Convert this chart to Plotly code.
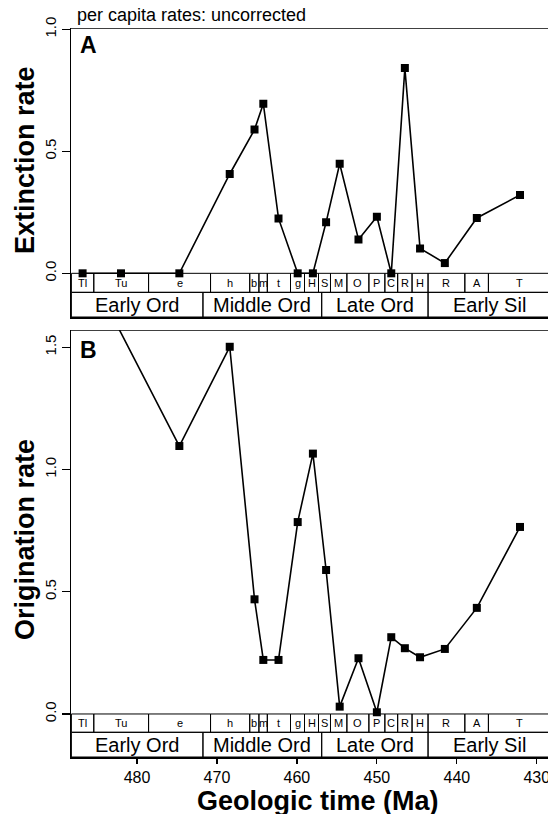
import plotly.graph_objects as go

# ---------------- data ----------------
ages = [486.8, 482.0, 474.7, 468.4, 465.3, 464.2, 462.3, 459.9, 458.0, 456.35,
        454.65, 452.3, 450.0, 448.2, 446.5, 444.6, 441.5, 437.5, 432.1]
extinction = [0, 0, 0, 0.407, 0.589, 0.695, 0.225, 0, 0, 0.209,
              0.449, 0.139, 0.232, 0, 0.841, 0.102, 0.042, 0.227, 0.321]
origination = [1.863, None, 1.096, 1.502, 0.469, 0.221, 0.221, 0.785, 1.065, 0.589,
               0.030, 0.228, 0.007, 0.314, 0.269, 0.232, 0.266, 0.434, 0.765]

stage_labels = ["Tl", "Tu", "e", "h", "b", "m", "t", "g", "H", "S", "M", "O", "P",
                "C", "R", "H", "R", "A", "T"]
stage_bounds = [488.2, 485.4, 478.55, 470.8, 465.9, 464.75, 463.7, 460.8, 459.05,
                457.3, 455.8, 453.75, 451.0, 449.0, 447.4, 445.6, 443.6, 439.0,
                436.05, 428.2]
series_labels = ["Early Ord", "Middle Ord", "Late Ord", "Early Sil"]
series_bounds = [488.2, 471.75, 456.9, 443.6, 428.2]

x_ticks = [480, 470, 460, 450, 440, 430]
y_ticks_a = [0, 0.5, 1.0]
y_ticks_b = [0, 0.5, 1.0, 1.5]

# ---------------- layout constants ----------------
W, H = 548, 814
FONT = "Liberation Sans"
XRANGE = [488.25, 428.6]
A_RANGE = [-0.179, 1.004]
B_RANGE = [-0.176, 1.5706]
A_STAGE_BOTTOM = -0.078
B_STAGE_BOTTOM = -0.075


def py(p):
    return 1 - p / H


fig = go.Figure()

fig.add_trace(go.Scatter(
    x=ages, y=extinction, mode="lines+markers", xaxis="x", yaxis="y",
    line=dict(color="black", width=1.6),
    marker=dict(symbol="square", size=8, color="black"),
    showlegend=False, hoverinfo="skip"))
fig.add_trace(go.Scatter(
    x=ages, y=origination, mode="lines+markers", xaxis="x2", yaxis="y2",
    connectgaps=True,
    line=dict(color="black", width=1.6),
    marker=dict(symbol="square", size=8, color="black"),
    showlegend=False, hoverinfo="skip"))

shapes = []
annotations = []

for xr, yr, bottom, rng in [("x", "y", A_STAGE_BOTTOM, A_RANGE),
                            ("x2", "y2", B_STAGE_BOTTOM, B_RANGE)]:
    # top frame line of the panel
    shapes.append(dict(type="line", xref="paper", yref=yr, x0=0, x1=1, y0=rng[1], y1=rng[1],
                       line=dict(color="black", width=1.5), layer="above"))
    for i, lab in enumerate(stage_labels):
        x0, x1 = stage_bounds[i], stage_bounds[i + 1]
        shapes.append(dict(type="rect", xref=xr, yref=yr, x0=x0, x1=x1, y0=bottom, y1=0,
                           line=dict(color="black", width=1), layer="above"))
        annotations.append(dict(x=(x0 + x1) / 2, y=bottom / 2, xref=xr, yref=yr,
                                text=lab, showarrow=False,
                                font=dict(size=11, family=FONT, color="black")))
    for i, lab in enumerate(series_labels):
        x0, x1 = series_bounds[i], series_bounds[i + 1]
        shapes.append(dict(type="rect", xref=xr, yref=yr, x0=x0, x1=x1, y0=rng[0], y1=bottom,
                           line=dict(color="black", width=1), layer="above"))
        annotations.append(dict(x=(x0 + x1) / 2, y=(bottom + rng[0]) / 2, xref=xr, yref=yr,
                                text=lab, showarrow=False,
                                font=dict(size=20, family=FONT, color="black")))

# texts
annotations += [
    dict(x=4 / 477, y=py(15), xref="paper", yref="paper", xanchor="left", yanchor="middle",
         text="per capita rates: uncorrected", showarrow=False,
         font=dict(size=18, family=FONT, color="black")),
    dict(x=7 / 477, y=py(45), xref="paper", yref="paper", xanchor="left", yanchor="middle",
         text="<b>A</b>", showarrow=False, font=dict(size=23, family=FONT, color="black")),
    dict(x=7 / 477, y=py(350), xref="paper", yref="paper", xanchor="left", yanchor="middle",
         text="<b>B</b>", showarrow=False, font=dict(size=23, family=FONT, color="black")),
    dict(x=(25 - 71) / 477, y=py(160), xref="paper", yref="paper", textangle=-90,
         xanchor="center", yanchor="middle",
         text="<b>Extinction rate</b>", showarrow=False,
         font=dict(size=27, family=FONT, color="black")),
    dict(x=(25 - 71) / 477, y=py(540), xref="paper", yref="paper", textangle=-90,
         xanchor="center", yanchor="middle",
         text="<b>Origination rate</b>", showarrow=False,
         font=dict(size=27, family=FONT, color="black")),
    dict(x=(318 - 71) / 477, y=py(801), xref="paper", yref="paper",
         xanchor="center", yanchor="middle",
         text="<b>Geologic time (Ma)</b>", showarrow=False,
         font=dict(size=27, family=FONT, color="black")),
]

axis_common = dict(showgrid=False, zeroline=False, showline=True, linecolor="black",
                   linewidth=1.5, automargin=False)

fig.update_layout(
    width=W, height=H,
    margin=dict(l=71, r=0, t=0, b=0, pad=0),
    paper_bgcolor="white", plot_bgcolor="white",
    font=dict(family=FONT, color="black"),
    hovermode=False,
    xaxis=dict(domain=[0, 1], range=XRANGE, anchor="y", mirror=False,
               showticklabels=False, ticks="", **axis_common),
    yaxis=dict(domain=[py(317), py(28.3)], range=A_RANGE, anchor="x",
               tickvals=y_ticks_a, ticktext=["0.0", "0.5", "1.0"], tickangle=-90,
               ticks="outside", ticklen=8, tickwidth=1.2, tickcolor="black",
               tickfont=dict(size=15, family=FONT, color="black"), **axis_common),
    xaxis2=dict(domain=[0, 1], range=XRANGE, anchor="y2", mirror=False,
                tickvals=x_ticks, ticks="outside", ticklen=5, tickwidth=1.2,
                tickcolor="black", ticklabeloverflow="allow",
                tickfont=dict(size=16, family=FONT, color="black"),
                **axis_common),
    yaxis2=dict(domain=[py(757), py(330)], range=B_RANGE, anchor="x2",
                tickvals=y_ticks_b, ticktext=["0.0", "0.5", "1.0", "1.5"], tickangle=-90,
                ticks="outside", ticklen=8, tickwidth=1.2, tickcolor="black",
                tickfont=dict(size=15, family=FONT, color="black"), **axis_common),
    shapes=shapes,
    annotations=annotations,
)

fig.write_html("out.html",
               config={"displayModeBar": False, "staticPlot": True},
               post_script="document.body.style.margin='0px';"
                           "document.body.style.padding='0px';"
                           "document.body.style.overflow='hidden';")
